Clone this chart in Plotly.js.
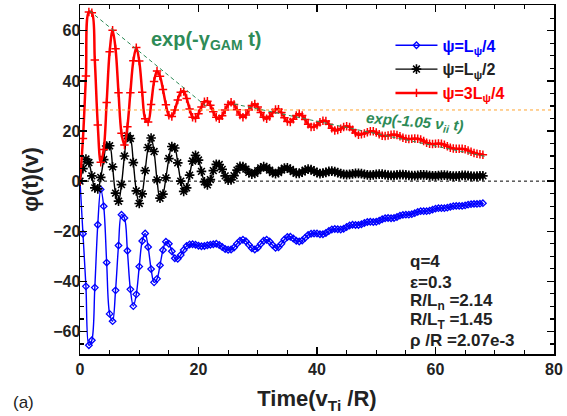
<!DOCTYPE html>
<html>
<head>
<meta charset="utf-8">
<script src="https://cdn.plot.ly/plotly-3.0.1.min.js"></script>
<style>html,body{margin:0;padding:0;background:#fff;}#chart{width:567px;height:416px;}</style>
</head>
<body>
<div id="chart"></div>
<script>
const time = [0,0.5,1,1.5,2,2.5,3,3.5,4,4.5,5,5.5,6,6.5,7,7.5,8,8.5,9,9.5,10,10.5,11,11.5,12,12.5,13,13.5,14,14.5,15,15.5,16,16.5,17,17.5,18,18.5,19,19.5,20,20.5,21,21.5,22,22.5,23,23.5,24,24.5,25,25.5,26,26.5,27,27.5,28,28.5,29,29.5,30,30.5,31,31.5,32,32.5,33,33.5,34,34.5,35,35.5,36,36.5,37,37.5,38,38.5,39,39.5,40,40.5,41,41.5,42,42.5,43,43.5,44,44.5,45,45.5,46,46.5,47,47.5,48,48.5,49,49.5,50,50.5,51,51.5,52,52.5,53,53.5,54,54.5,55,55.5,56,56.5,57,57.5,58,58.5,59,59.5,60,60.5,61,61.5,62,62.5,63,63.5,64,64.5,65,65.5,66,66.5,67,67.5,68];

const phiQuarter = [0,-21,-42,-65.5,-63.5,-42.5,-17.4,-3.3,-10.0,-32.5,-53.0,-55.9,-43.6,-25.7,-13.4,-14.7,-27.8,-43.2,-49.9,-45.2,-34.1,-23.9,-20.9,-26.3,-35.1,-40.4,-39.0,-33.6,-27.5,-24.2,-25.0,-28.0,-30.8,-31.0,-29.5,-27.5,-25.9,-25.3,-25.2,-25.4,-25.8,-26.0,-25.9,-25.6,-25.4,-25.2,-25.0,-25.5,-26.3,-27.1,-27.4,-27.3,-26.5,-25.0,-23.8,-23.4,-24.0,-25.4,-26.8,-27.3,-26.6,-25.1,-23.8,-23.4,-24.1,-25.5,-26.6,-26.4,-25.0,-23.3,-22.3,-22.2,-22.9,-23.8,-24.1,-23.7,-22.6,-21.5,-21.0,-20.9,-20.9,-21.2,-21.2,-20.7,-19.9,-19.3,-19.1,-19.2,-19.3,-19.0,-18.3,-17.7,-17.4,-17.5,-17.5,-17.2,-16.7,-16.3,-16.2,-16.3,-16.2,-15.8,-15.2,-14.8,-14.7,-14.8,-14.7,-14.3,-13.8,-13.5,-13.4,-13.4,-13.2,-12.8,-12.3,-12.0,-12.0,-12.0,-11.8,-11.4,-11.0,-10.8,-10.8,-10.8,-10.6,-10.3,-10.0,-9.9,-9.9,-9.9,-9.7,-9.4,-9.2,-9.1,-9.1,-9.0,-8.8];

const phiHalf = [0,5.0,8.8,7.4,2.1,-2.7,-3.1,1.5,8.6,14.0,14.1,5.7,-4.8,-8.0,-1.4,10.0,18.1,17.0,7.4,-3.9,-8.9,-5.1,4.2,13.4,17.2,11.8,0.5,-6.8,-5.2,1.3,9.0,13.8,13.2,7.3,0.0,-4.1,-2.7,2.4,8.0,10.3,8.4,3.9,-0.3,-1.5,0.6,4.2,6.7,6.6,4.7,2.1,0.4,0.5,2.2,4.4,5.9,5.8,4.8,3.5,2.8,3.1,4.2,5.3,5.8,5.4,4.4,3.4,3.0,3.4,4.4,5.2,5.3,4.7,3.8,3.1,3.1,3.6,4.4,4.8,4.6,4.0,3.4,3.0,3.2,3.5,3.9,4.0,3.8,3.4,3.0,2.7,2.6,2.7,2.9,3.1,3.1,3.0,2.7,2.5,2.4,2.5,2.7,2.8,2.8,2.6,2.4,2.3,2.3,2.5,2.6,2.6,2.5,2.3,2.2,2.2,2.3,2.5,2.5,2.4,2.2,2.1,2.1,2.2,2.4,2.4,2.3,2.1,2.0,2.0,2.1,2.3,2.3,2.2,2.0,1.9,2.0,2.1,2.1];

const phiThreeQuarter = [0,17,42,67.5,67.2,48.3,22.4,7.5,12.6,31.4,51.6,60.2,52.8,35.3,19.1,14.4,21.7,35.3,48.0,53.3,47.9,35.5,24.9,23.6,30.6,39.8,44.0,41.9,36.6,30.5,26.3,25.8,28.4,32.4,35.5,35.8,33.0,28.8,25.5,25.1,26.9,29.6,31.7,31.9,30.3,27.7,25.5,24.9,26.1,28.4,30.6,31.5,30.6,28.5,26.4,25.5,26.4,28.4,30.2,30.8,29.6,27.4,25.5,24.9,25.8,27.3,28.6,28.7,27.4,25.3,23.8,23.6,24.7,26.2,26.9,26.2,24.6,22.7,21.6,21.7,22.4,23.5,24.1,24.0,22.7,21.1,20.2,20.4,20.9,21.6,21.9,21.6,20.5,19.2,18.5,18.7,19.0,19.5,19.9,19.9,19.4,18.7,18.1,18.0,18.2,18.5,18.6,18.4,17.9,17.3,16.9,16.8,16.9,17.0,16.9,16.6,16.0,15.3,14.9,14.8,14.9,15.0,14.9,14.5,13.9,13.3,13.0,12.9,12.9,12.9,12.7,12.2,11.7,11.2,10.9,10.7,10.5];

const gamFitTime = [1.6, 21.5];
const gamFitPhi = [68.0, 29.5];
const collFitTime = [26.0, 68.3];
const collFitPhi = [30.8, 9.9];
const refLineTime = [0, 80];
const residualLevel = [28.4, 28.4];
const zeroLevel = [0, 0];

const legendNames = ['ψ=L<sub>ψ</sub>/4', 'ψ=L<sub>ψ</sub>/2', 'ψ=3L<sub>ψ</sub>/4'];
const paramLines = ['q=4', 'ε=0.3', 'R/L<sub>n</sub> =2.14', 'R/L<sub>T</sub> =1.45', 'ρ /R =2.07e-3'];
const paramPhi = [-32.2, -40.4, -48.1, -55.8, -63.7];

const FONT = 'Liberation Sans, Arial, Helvetica, sans-serif';
const GREEN = '#2E8B57';

const traces = [
  {x: time, y: phiQuarter, type: 'scatter', mode: 'lines+markers',
   name: '<span style="color:#0000FF"><b>' + legendNames[0] + '</b></span>',
   line: {color: '#0000FF', width: 1.4, shape: 'spline'},
   marker: {symbol: 'diamond-open', size: 5, color: '#0000FF', line: {width: 1.3, color: '#0000FF'}}},
  {x: time, y: phiHalf, type: 'scatter', mode: 'lines+markers',
   name: '<span style="color:#222"><b>' + legendNames[1] + '</b></span>',
   line: {color: '#000000', width: 1.4, shape: 'spline'},
   marker: {symbol: 'asterisk-open', size: 8, color: '#000000', line: {width: 1.6, color: '#000000'}}},
  {x: time, y: phiThreeQuarter, type: 'scatter', mode: 'lines+markers',
   name: '<span style="color:#FF0000"><b>' + legendNames[2] + '</b></span>',
   line: {color: '#FF0000', width: 2.5, shape: 'spline'},
   marker: {symbol: 'cross-thin-open', size: 6, color: '#FF0000', line: {width: 1.5, color: '#FF0000'}}},
  {x: refLineTime, y: residualLevel, type: 'scatter', mode: 'lines', showlegend: false, hoverinfo: 'skip',
   line: {color: '#FFA530', width: 1, dash: '3px,3px'}},
  {x: refLineTime, y: zeroLevel, type: 'scatter', mode: 'lines', showlegend: false, hoverinfo: 'skip',
   line: {color: '#000000', width: 1, dash: '3px,3px'}},
  {x: gamFitTime, y: gamFitPhi, type: 'scatter', mode: 'lines', showlegend: false, hoverinfo: 'skip',
   line: {color: GREEN, width: 1, dash: '4px,3px'}},
  {x: collFitTime, y: collFitPhi, type: 'scatter', mode: 'lines', showlegend: false, hoverinfo: 'skip',
   line: {color: GREEN, width: 1, dash: '4px,3px'}}
];

const axisCommon = {
  showgrid: false, zeroline: false, showline: true, linecolor: '#000', linewidth: 1.5,
  mirror: 'allticks', ticks: 'inside', ticklen: 7, tickwidth: 1.3, tickcolor: '#000',
  tickfont: {family: FONT, size: 16, color: '#222', weight: 'bold'}
};

const annotations = [
  {x: 21.3, y: 56.1, xref: 'x', yref: 'y', showarrow: false,
   text: '<b>exp(-γ<sub>GAM</sub> t)</b>', font: {family: FONT, size: 20, color: GREEN}},
  {x: 56.6, y: 23.4, xref: 'x', yref: 'y', showarrow: false, textangle: 5,
   text: '<b><i>exp(-1.05 ν<sub>ii</sub> t)</i></b>', font: {family: FONT, size: 15, color: GREEN}},
  {x: -0.145, y: -0.14, xref: 'paper', yref: 'paper', showarrow: false, xanchor: 'left', yanchor: 'middle',
   text: '(a)', font: {family: FONT, size: 17, color: '#222'}}
];
paramLines.forEach(function (txt, i) {
  annotations.push({x: 55.4, y: paramPhi[i], xref: 'x', yref: 'y', showarrow: false,
    xanchor: 'left', yanchor: 'middle', align: 'left',
    text: '<b>' + txt + '</b>', font: {family: FONT, size: 17, color: '#222'}});
});

const layout = {
  width: 567, height: 416,
  margin: {l: 80, r: 13, t: 5, b: 62},
  paper_bgcolor: '#fff', plot_bgcolor: '#fff',
  font: {family: FONT, color: '#222'},
  showlegend: true,
  legend: {x: 0.655, y: 0.933, xanchor: 'left', yanchor: 'top', bgcolor: 'rgba(0,0,0,0)',
           font: {family: FONT, size: 16}, itemwidth: 42, tracegroupgap: 0},
  xaxis: Object.assign({}, axisCommon, {
    range: [0, 80], tick0: 0, dtick: 20,
    minor: {dtick: 5, ticks: 'inside', ticklen: 4, tickwidth: 1.2, tickcolor: '#000'},
    title: {text: 'Time(v<sub>Ti</sub> /R)', font: {family: FONT, size: 22, color: '#222', weight: 'bold'}, standoff: 14}
  }),
  yaxis: Object.assign({}, axisCommon, {
    range: [-69, 70.3], tick0: 0, dtick: 20, ticklabelstandoff: -5,
    minor: {dtick: 5, ticks: 'inside', ticklen: 4, tickwidth: 1.2, tickcolor: '#000'},
    title: {text: 'φ(t)(v)', font: {family: FONT, size: 22, color: '#222', weight: 'bold'}, standoff: 8}
  }),
  annotations: annotations
};

Plotly.newPlot('chart', traces, layout, {staticPlot: true, displayModeBar: false});
</script>
</body>
</html>
